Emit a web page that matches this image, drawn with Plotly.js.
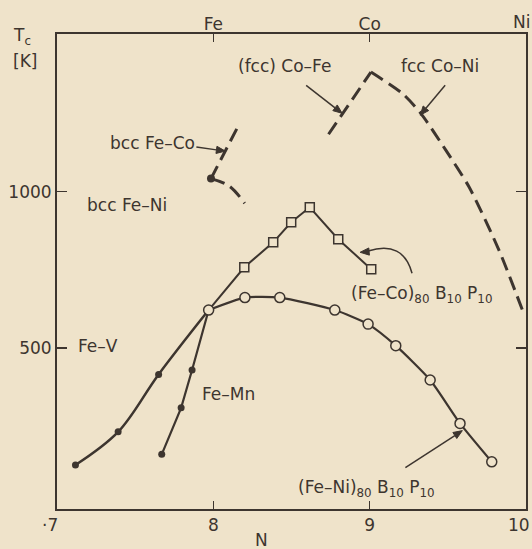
<!DOCTYPE html>
<html>
<head>
<meta charset="utf-8">
<script src="https://cdn.plot.ly/plotly-3.0.1.min.js"></script>
<style>html,body{margin:0;padding:0;background:#efe3ca;}</style>
</head>
<body>
<div id="chart" style="width:532px;height:549px;"></div>
<script>
// ---- data (N = electrons per atom, Tc in K) ----
const commonN = [7.97];
const commonT = [621];

const feV_N = [7.118, 7.391, 7.650];
const feV_T = [125, 231, 415];

const feMn_N = [7.670, 7.794, 7.864];
const feMn_T = [159, 308, 429];

const feCoAm_N = [8.198, 8.383, 8.498, 8.617, 8.799, 9.010];
const feCoAm_T = [758, 838, 902, 950, 848, 752];

const feNiAm_N = [8.202, 8.425, 8.777, 8.990, 9.167, 9.387, 9.578, 9.781];
const feNiAm_T = [661, 661, 621, 576, 507, 397, 258, 135];

const feDot_N = [7.985];
const feDot_T = [1042];

const bccFeCo_N = [7.985, 8.162];
const bccFeCo_T = [1042, 1213];

const bccFeNi_N = [7.985, 8.102, 8.200];
const bccFeNi_T = [1042, 1018, 963];

const fccCoFe_N = [8.737, 9.008];
const fccCoFe_T = [1184, 1383];

const fccCoNi_N = [9.008, 9.208, 9.327, 9.487, 9.636, 9.827, 9.987];
const fccCoNi_T = [1383, 1315, 1251, 1133, 1015, 813, 608];

const bottomTickVals = [8, 9];
const bottomTickText = ['8', '9'];
const bottomEdgeText = ['·7', '10'];
const topTickVals = [8, 9];
const topTickText = ['Fe', 'Co'];
const topEdgeText = 'Ni';
const yTickVals = [500, 1000];

// ---- styling ----
const ink = '#3d352f';
const bg = '#efe3ca';
const font = 'DejaVu Sans, sans-serif';
const dashPat = '14px,7px';

const traces = [
  // Fe-V
  {x: feV_N.concat(commonN), y: feV_T.concat(commonT), mode: 'lines',
   line: {color: ink, width: 2.5, shape: 'spline', smoothing: 1}},
  {x: feV_N, y: feV_T, mode: 'markers', marker: {color: ink, size: 7}},
  // Fe-Mn
  {x: feMn_N.concat(commonN), y: feMn_T.concat(commonT), mode: 'lines',
   line: {color: ink, width: 2.2}},
  {x: feMn_N, y: feMn_T, mode: 'markers', marker: {color: ink, size: 7}},
  // (Fe-Co)80B10P10
  {x: commonN.concat(feCoAm_N), y: commonT.concat(feCoAm_T), mode: 'lines',
   line: {color: ink, width: 2}},
  {x: feCoAm_N, y: feCoAm_T, mode: 'markers',
   marker: {symbol: 'square', color: bg, size: 9, line: {color: ink, width: 1.5}}},
  // (Fe-Ni)80B10P10
  {x: commonN.concat(feNiAm_N), y: commonT.concat(feNiAm_T), mode: 'lines',
   line: {color: ink, width: 2.2, shape: 'spline', smoothing: 0.6}},
  {x: commonN.concat(feNiAm_N), y: commonT.concat(feNiAm_T), mode: 'markers',
   marker: {symbol: 'circle', color: bg, size: 10, line: {color: ink, width: 1.5}}},
  // crystalline alloys (dashed)
  {x: bccFeCo_N, y: bccFeCo_T, mode: 'lines', line: {color: ink, width: 3, dash: dashPat}},
  {x: bccFeNi_N, y: bccFeNi_T, mode: 'lines', line: {color: ink, width: 3, dash: dashPat, shape: 'spline'}},
  {x: fccCoFe_N, y: fccCoFe_T, mode: 'lines', line: {color: ink, width: 3, dash: dashPat}},
  {x: fccCoNi_N, y: fccCoNi_T, mode: 'lines', line: {color: ink, width: 3, dash: dashPat, shape: 'spline', smoothing: 0.7}},
  {x: feDot_N, y: feDot_T, mode: 'markers', marker: {color: ink, size: 8}},
  // carrier for the top axis
  {x: [], y: [], xaxis: 'x2', yaxis: 'y', mode: 'markers', showlegend: false}
];

function txt(text, x, y, extra) {
  return Object.assign({text: text, x: x, y: y, xref: 'x', yref: 'y', showarrow: false,
    xanchor: 'center', yanchor: 'middle',
    font: {family: font, size: 17, color: ink}}, extra || {});
}

const annotations = [
  txt('(fcc) Co–Fe', 8.454, 1402),
  txt('fcc Co–Ni', 9.450, 1402),
  txt('bcc Fe–Co', 7.610, 1155),
  txt('bcc Fe–Ni', 7.450, 957),
  txt('Fe–V', 7.265, 506),
  txt('Fe–Mn', 8.096, 352),
  txt('(Fe–Co)<sub>80</sub> B<sub>10</sub> P<sub>10</sub>', 9.335, 672),
  txt('(Fe–Ni)<sub>80</sub> B<sub>10</sub> P<sub>10</sub>', 8.978, 50),
  txt('N', 8.307, -0.066, {yref: 'paper'}),
  txt('T<sub>c</sub>', -0.075, 0.995, {xref: 'paper', yref: 'paper'}),
  txt('[K]', -0.068, 0.944, {xref: 'paper', yref: 'paper'}),
  // edge tick labels kept inside the picture
  txt(bottomEdgeText[0], 0.007, -0.033, {xref: 'paper', yref: 'paper', xanchor: 'right'}),
  txt(bottomEdgeText[1], 1.0135, -0.033, {xref: 'paper', yref: 'paper', xanchor: 'right'}),
  txt(topEdgeText, 1.0135, 1.025, {xref: 'paper', yref: 'paper', xanchor: 'right'})
];

// arrows as shapes: head at data point, tail given as screen-pixel offset (dx right, dy down)
function arrowShapes(N, T, dx, dy, withLine) {
  const out = [];
  const tx = dx, ty = -dy;            // pixel-mode y is positive upward
  const len = Math.hypot(tx, ty);
  const ux = -tx / len, uy = -ty / len; // tail -> head
  const L = 9, w = 3.6;
  const bx = -ux * L, by = -uy * L;
  const px = -uy, py = ux;
  const base = {xref: 'x', yref: 'y', xsizemode: 'pixel', ysizemode: 'pixel', xanchor: N, yanchor: T};
  if (withLine) {
    out.push(Object.assign({type: 'line', x0: tx, y0: ty, x1: bx, y1: by,
      line: {color: ink, width: 1.5}}, base));
  }
  out.push(Object.assign({type: 'path',
    path: 'M 0,0 L ' + (bx + px * w).toFixed(2) + ',' + (by + py * w).toFixed(2) +
          ' L ' + (bx - px * w).toFixed(2) + ',' + (by - py * w).toFixed(2) + ' Z',
    fillcolor: ink, line: {color: ink, width: 1}}, base));
  return out;
}

const shapes = [].concat(
  arrowShapes(8.824, 1251, -36, -28, true),
  arrowShapes(9.323, 1245, 25, -30, true),
  arrowShapes(8.077, 1130, -29, -4, true),
  arrowShapes(9.593, 235, -57, 37, true),
  arrowShapes(8.939, 806, 12, -1, false),
  [{type: 'path', xref: 'x', yref: 'y', path: 'M 9.271,739 Q 9.214,845 8.990,810',
    line: {color: ink, width: 1.5}}]
);

const axisCommon = {showgrid: false, zeroline: false, showline: true, linecolor: ink, linewidth: 2,
  ticks: 'inside', tickcolor: ink, tickwidth: 1.5, mirror: 'ticks',
  tickfont: {family: font, size: 17, color: ink}};

const layout = {
  width: 532, height: 549,
  margin: {l: 57, r: 6, t: 34, b: 40, pad: 0},
  paper_bgcolor: bg, plot_bgcolor: bg,
  showlegend: false,
  font: {family: font, color: ink},
  xaxis: Object.assign({}, axisCommon, {range: [7, 10], tickmode: 'array', tickvals: bottomTickVals,
    ticktext: bottomTickText, ticklen: 8}),
  xaxis2: {overlaying: 'x', side: 'top', range: [7, 10], tickmode: 'array', tickvals: topTickVals,
    ticktext: topTickText, showgrid: false, zeroline: false, showline: false, ticks: '',
    tickfont: {family: font, size: 17, color: ink}},
  yaxis: Object.assign({}, axisCommon, {range: [-16, 1505], tickmode: 'array', tickvals: yTickVals,
    ticklen: 10}),
  annotations: annotations,
  shapes: shapes
};

Plotly.newPlot('chart', traces, layout, {displayModeBar: false, staticPlot: true});
</script>
</body>
</html>
